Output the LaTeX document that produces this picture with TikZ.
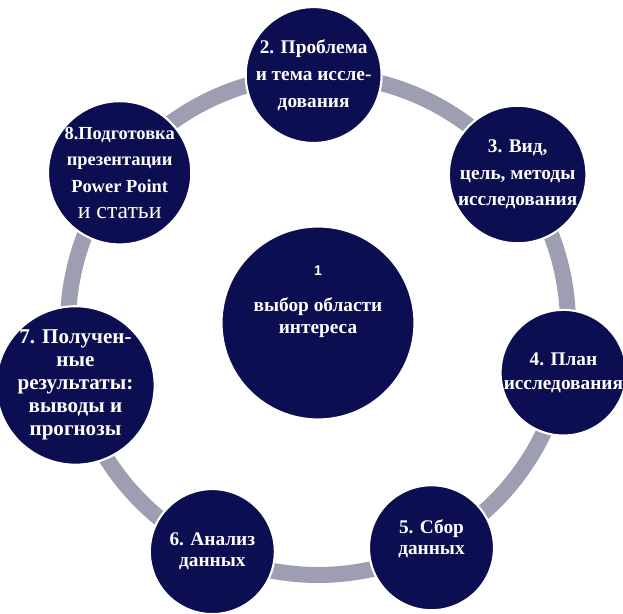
\documentclass[tikz,border=0pt]{standalone}
\usepackage{fontspec}
\setmainfont{Liberation Serif}
\setsansfont{Liberation Sans}
\usetikzlibrary{backgrounds}
\definecolor{stagenavy}{RGB}{11, 14, 80}
\definecolor{ringgray}{RGB}{158, 158, 178}

\tikzset{
  stage/.style={circle, draw=white, line width=1.2pt, fill=stagenavy, text=white, minimum size=2.5cm, inner sep=0pt, align=center, font=\fontsize{11}{14}\selectfont\bfseries},
  ring/.style={ringgray, line width=0.32cm}
}

\begin{document}
\begin{tikzpicture}[x=0.02cm, y=0.02cm]
  \useasboundingbox (-318,-289) rectangle (305,325);
  \clip (-318,-289) rectangle (305,325);

  % Centre
  \node[stage, minimum size=3.86cm, font=\fontsize{11}{12.5}\selectfont\bfseries] (c) at (0,2) {{\sffamily\fontsize{8}{10}\selectfont 1}\\[7.5pt]выбор области\\интереса\\[14pt]\mbox{}};

  % Stages round the ring
  \node[stage, font=\fontsize{11}{15.5}\selectfont\bfseries] (s2) at (91:250) {2. Проблема\\и тема иссле-\\дования};
  \node[stage, font=\fontsize{11}{15}\selectfont\bfseries] (s3) at (37:250) {3. Вид,\\цель, методы\\исследования};
  \node[stage] (s4) at (-11:250) {4. План\\исследования};
  \node[stage, font=\fontsize{11}{12}\selectfont\bfseries] (s5) at (-63:250) {5. Сбор\\данных\\\mbox{}};
  \node[stage, font=\fontsize{11}{12}\selectfont\bfseries] (s6) at (-115:250) {6. Анализ\\данных};
  \node[stage, font=\fontsize{12}{13}\selectfont\bfseries] (s7) at (-166:250) {\mbox{}\\[-6pt]7. Получен-\\ные\\результаты:\\выводы и\\прогнозы};
  \node[stage, font=\fontsize{10.5}{15}\selectfont\bfseries] (s8) at (142.5:250) {8.Подготовка\\презентации\\Power Point\\{\mdseries\fontsize{13.5}{16}\selectfont и статьи}};

  % Ring
  \begin{scope}[on background layer]
    \foreach \a/\b/\n in {91/37/s2, 37/-11/s3, -11/-63/s4, -63/-115/s5, -115/-166/s6, -166/-217.5/s7, 142.5/91/s8}
      \draw[ring] (\n.center) arc[start angle=\a, end angle=\b, radius=250];
  \end{scope}
\end{tikzpicture}
\end{document}
